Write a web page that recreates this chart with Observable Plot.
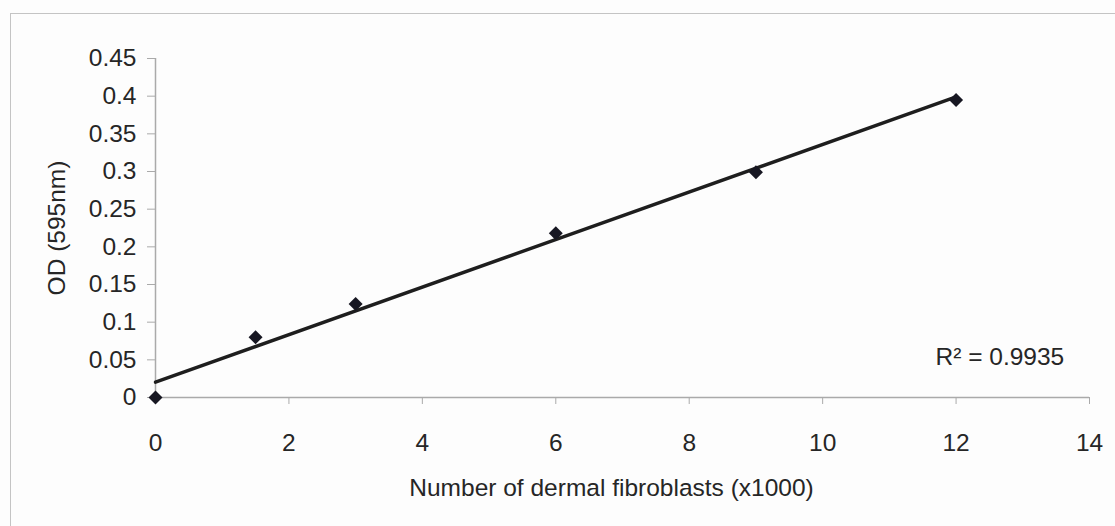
<!DOCTYPE html>
<html>
<head>
<meta charset="utf-8">
<script src="https://cdn.jsdelivr.net/npm/d3@7"></script>
<script src="https://cdn.jsdelivr.net/npm/@observablehq/plot@0.6"></script>
<style>
  html, body { margin: 0; padding: 0; background: #fdfdfd; }
  #wrap { position: relative; width: 1115px; height: 526px; overflow: hidden; }
  #frame { position: absolute; left: 10px; top: 13px; right: -10px; bottom: -10px;
           border-left: 1.5px solid #c4c4c4; border-top: 1.5px solid #c4c4c4; }
  #chart { position: absolute; left: 0; top: 0; }
</style>
</head>
<body>
<div id="wrap"><div id="frame"></div><div id="chart"></div></div>
<script>
// Cell count (thousands) against optical density at 595 nm
const cells = [0, 1.5, 3, 6, 9, 12];
const od = [0, 0.080, 0.124, 0.218, 0.299, 0.395];
const xTicks = [0, 2, 4, 6, 8, 10, 12, 14];
const yTicks = [0, 0.05, 0.1, 0.15, 0.2, 0.25, 0.3, 0.35, 0.4, 0.45];
const r2Label = "R² = 0.9935";
const xTitle = "Number of dermal fibroblasts (x1000)";
const yTitle = "OD (595nm)";

const data = cells.map((c, i) => ({cells: c, od: od[i]}));

const axisGrey = "#aaaaaa";
const ink = "#262626";

const chart = Plot.plot({
  width: 1115,
  height: 526,
  marginLeft: 155,
  marginRight: 26,
  marginTop: 58,
  marginBottom: 129,
  style: {fontFamily: "'Liberation Sans', Arial, sans-serif", fontSize: "24.5px", background: "transparent", color: ink},
  x: {domain: [0, 14]},
  y: {domain: [0, 0.45]},
  marks: [
    Plot.ruleY([0], {stroke: axisGrey, strokeWidth: 1.5}),
    Plot.ruleX([0], {stroke: axisGrey, strokeWidth: 1.5}),
    Plot.axisX({ticks: xTicks, tickSize: 7, tickPadding: 29, stroke: axisGrey, fill: ink, label: null, tickFormat: d => String(d)}),
    Plot.axisY({ticks: yTicks, tickSize: 8, tickPadding: 11, stroke: axisGrey, fill: ink, label: null, tickFormat: d => String(+d.toFixed(2))}),
    Plot.linearRegressionY(data, {x: "cells", y: "od", ci: 0, stroke: "#1e1e1e", strokeWidth: 3.4}),
    Plot.dot(data, {x: "cells", y: "od", symbol: "diamond2", r: 6.3, fill: "#171722", stroke: "none"}),
    Plot.text([r2Label], {frameAnchor: "bottom-right", textAnchor: "start", lineAnchor: "middle", dx: -154, dy: -40, fill: ink}),
    Plot.text([xTitle], {frameAnchor: "bottom", textAnchor: "middle", lineAnchor: "middle", dx: -11, dy: 91, fill: ink}),
    Plot.text([yTitle], {frameAnchor: "left", textAnchor: "middle", rotate: -90, lineAnchor: "middle", dx: -98, fill: ink})
  ]
});

document.getElementById("chart").appendChild(chart);
</script>
</body>
</html>
